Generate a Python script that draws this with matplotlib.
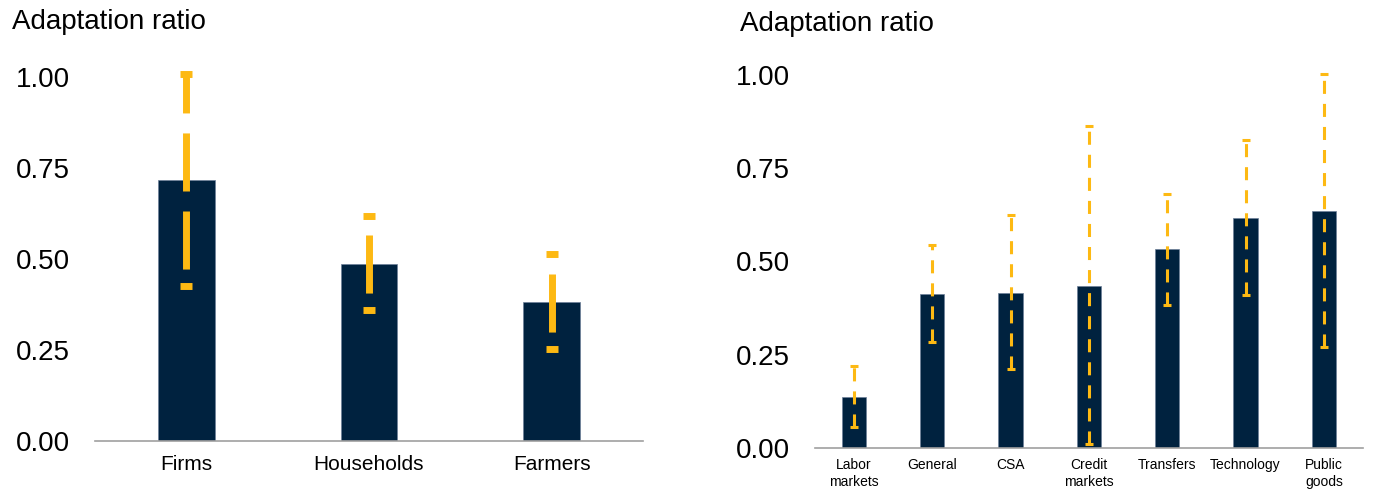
import numpy as np
import matplotlib
matplotlib.use('Agg')
import matplotlib.pyplot as plt

plt.rcParams['font.family'] = ['Liberation Sans', 'DejaVu Sans']
plt.rcParams['lines.scale_dashes'] = False

# left panel: by agent
agents = ['Firms', 'Households', 'Farmers']
agent_ratio = [0.718, 0.486, 0.382]
agent_lo = [0.426, 0.360, 0.253]
agent_hi = [1.010, 0.620, 0.514]

# right panel: by adaptation type
types = ['Labor\nmarkets', 'General', 'CSA', 'Credit\nmarkets', 'Transfers',
         'Technology', 'Public\ngoods']
type_ratio = [0.137, 0.413, 0.416, 0.434, 0.533, 0.617, 0.636]
type_lo = [0.056, 0.284, 0.212, 0.011, 0.383, 0.410, 0.272]
type_hi = [0.220, 0.544, 0.625, 0.863, 0.680, 0.826, 1.003]

navy = '#00223f'
gold = '#fdb913'


def panel(ax, labels, vals, lo, hi, lw, capsize, dashes, xfont, offset):
    x = np.arange(len(labels))
    ax.bar(x, vals, width=0.31, color=navy, edgecolor='#6d7f99',
           linewidth=0.5, zorder=2)
    err = [np.array(vals) - np.array(lo), np.array(hi) - np.array(vals)]
    _, caps, bars = ax.errorbar(x, vals, yerr=err, fmt='none', ecolor=gold,
                                elinewidth=lw, capsize=capsize, capthick=lw,
                                zorder=3, clip_on=False)
    bars[0].set_linestyle((offset, dashes))
    bars[0].set_capstyle('butt')
    ax.set_xlim(-0.5, len(labels) - 0.5)
    ax.set_ylim(0, 1.05)
    ax.set_yticks([0, 0.25, 0.5, 0.75, 1.0])
    ax.set_yticklabels(['0.00', '0.25', '0.50', '0.75', '1.00'])
    ax.set_xticks(x)
    ax.set_xticklabels(labels, fontsize=xfont, linespacing=1.3)
    for s in ['top', 'right', 'left']:
        ax.spines[s].set_visible(False)
    ax.spines['bottom'].set_color('#a0a0a0')
    ax.spines['bottom'].set_linewidth(1.2)
    ax.tick_params(axis='y', length=0, labelsize=20, pad=18)
    ax.tick_params(axis='x', length=0)


fig = plt.figure(figsize=(13.74, 4.94), dpi=100)

ax1 = fig.add_axes([0.069, 0.107, 0.399, 0.773])
panel(ax1, agents, agent_ratio, agent_lo, agent_hi, lw=5, capsize=4.3,
      dashes=(41.8, 14.4), xfont=15, offset=44)
ax1.tick_params(axis='x', pad=10)

ax2 = fig.add_axes([0.593, 0.0931, 0.399, 0.793])
panel(ax2, types, type_ratio, type_lo, type_hi, lw=2.2, capsize=2.9,
      dashes=(9.4, 7.2), xfont=10, offset=0)
ax2.tick_params(axis='x', pad=7)

fig.text(12 / 1374, 1 - 22 / 494, 'Adaptation ratio', fontsize=20,
         va='center', ha='left')
fig.text(740 / 1374, 1 - 24 / 494, 'Adaptation ratio', fontsize=20,
         va='center', ha='left')

fig.savefig('out.png', dpi=100)
